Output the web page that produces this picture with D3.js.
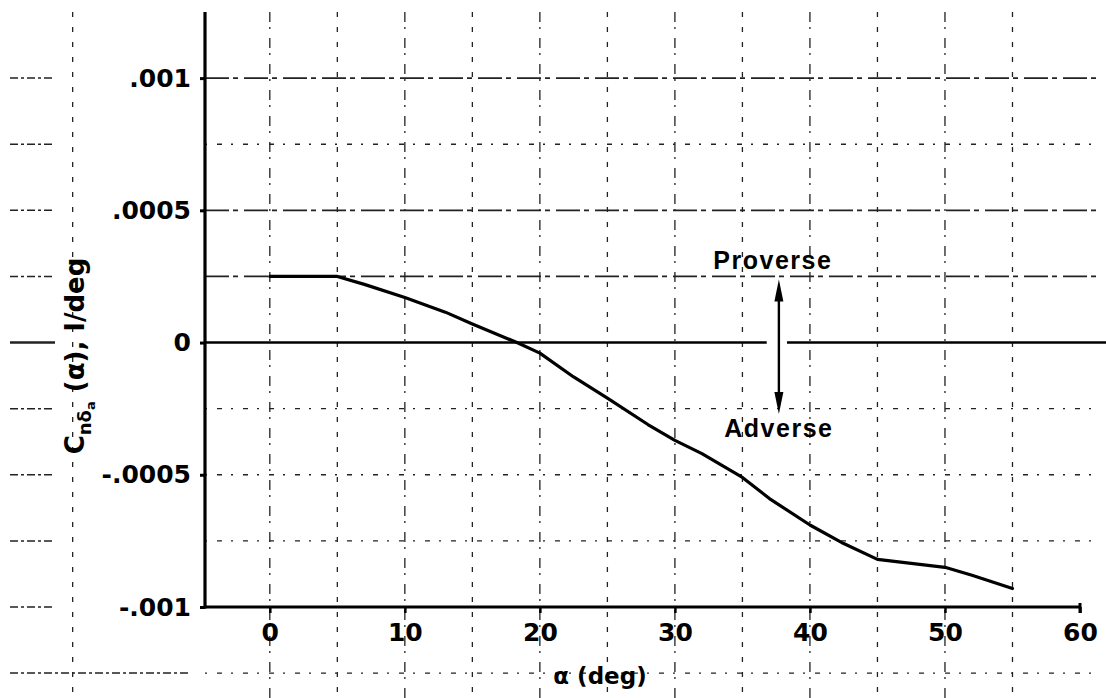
<!DOCTYPE html>
<html>
<head>
<meta charset="utf-8">
<script src="https://cdn.jsdelivr.net/npm/d3@7"></script>
<style>
  html, body { margin: 0; padding: 0; background: #fff; }
  svg { display: block; }
  text { font-family: "DejaVu Sans", "Liberation Sans", sans-serif; font-weight: bold; fill: #000; }
  text.lib { font-family: "Liberation Sans", Arial, sans-serif; }
</style>
</head>
<body>
<svg id="chart" width="1106" height="698"></svg>
<script>
// ---- data ----
const alphaDeg = [0, 5, 7, 10, 13, 15, 18.3, 20, 22.5, 25, 28, 30, 32, 35, 37, 40, 42.5, 45, 50, 52, 55];
const cnDa     = [0.00025, 0.00025, 0.00022, 0.00017, 0.000115, 0.00007, 0, -0.00004, -0.00013, -0.00021,
                  -0.00031, -0.00037, -0.00042, -0.00051, -0.00059, -0.00069, -0.00076, -0.00082, -0.00085, -0.00088, -0.00093];
const xTickValues = [0, 10, 20, 30, 40, 50, 60];
const xTickLabels = ["0", "10", "20", "30", "40", "50", "60"];
const yTickValues = [0.001, 0.0005, 0, -0.0005, -0.001];
const yTickLabels = [".001", ".0005", "0", "-.0005", "-.001"];
const xGridValues = [-14.6, 0, 5, 10, 15, 20, 25, 30, 35, 40, 45, 50, 55];
const yGridStrong = [0.001, 0.0005, 0.00025];
const yGridLight  = [0.00075, -0.00025, -0.0005, -0.00075, -0.00125];
const annotAlpha = 37.7;          // position of the Proverse/Adverse arrow (deg)
const annotTop = 0.00025, annotBottom = -0.00027;

// ---- scales ----
const svg = d3.select("#chart");
const x = d3.scaleLinear().domain([-4.8, 60]).range([205, 1080]);
const y = d3.scaleLinear().domain([-0.001, 0.00125]).range([607, 12]);

// ---- grid ----
const grid = svg.append("g").attr("stroke", "#222").attr("fill", "none");
grid.selectAll("line.v").data(xGridValues).join("line")
  .attr("class", "v")
  .attr("x1", d => x(d)).attr("x2", d => x(d))
  .attr("y1", 12).attr("y2", 698)
  .attr("stroke-width", 1.3)
  .attr("stroke-dasharray", (d, i) => i % 2 ? "10,5,2,9" : "5,10");
grid.selectAll("line.hs").data(yGridStrong).join("line")
  .attr("class", "hs")
  .attr("x1", x(-4.8)).attr("x2", 1100)
  .attr("y1", d => y(d)).attr("y2", d => y(d))
  .attr("stroke-width", 1.8)
  .attr("stroke-dasharray", "24,4,5,6");
grid.selectAll("line.hl").data(yGridLight).join("line")
  .attr("class", "hl")
  .attr("x1", x(-4.8)).attr("x2", 1100)
  .attr("y1", d => y(d)).attr("y2", d => y(d))
  .attr("stroke-width", 1.4)
  .attr("stroke-dasharray", "2,10,5,9");
// short pieces of the grid left of the frame
grid.selectAll("line.hleft").data(yGridStrong.concat(yGridLight, [0, -0.001])).join("line")
  .attr("class", "hleft")
  .attr("x1", 10).attr("x2", d => d === -0.00125 ? 190 : 55)
  .attr("y1", d => y(d)).attr("y2", d => y(d))
  .attr("stroke-width", d => d === 0 ? 2.5 : 1.5)
  .attr("stroke-dasharray", d => d === 0 ? null : "8,3,3,3");

// zero line (with gap for the arrow)
const zeroGap = [36.8, 38.3];
svg.append("line").attr("x1", x(-4.8)).attr("x2", x(zeroGap[0]))
  .attr("y1", y(0)).attr("y2", y(0)).attr("stroke", "#000").attr("stroke-width", 2.6);
svg.append("line").attr("x1", x(zeroGap[1])).attr("x2", 1106)
  .attr("y1", y(0)).attr("y2", y(0)).attr("stroke", "#000").attr("stroke-width", 2.6);

// ---- axes ----
const xAxis = d3.axisBottom(x).tickValues(xTickValues)
  .tickFormat((d, i) => xTickLabels[i]).tickSize(6).tickPadding(10);
const gx = svg.append("g").attr("transform", `translate(0,${y(-0.001)})`).call(xAxis);
gx.select(".domain").remove();
gx.selectAll(".tick line").attr("stroke", "#000").attr("stroke-width", 2.5);
gx.selectAll(".tick text").style("font-size", "25px").style("font-family", "'DejaVu Sans', sans-serif");
svg.append("line").attr("x1", x(-4.8)).attr("x2", x(60))
  .attr("y1", y(-0.001)).attr("y2", y(-0.001)).attr("stroke", "#000").attr("stroke-width", 3.2);
svg.append("line").attr("x1", x(60)).attr("x2", x(60))
  .attr("y1", y(-0.001) - 4).attr("y2", y(-0.001) + 6).attr("stroke", "#000").attr("stroke-width", 3);

const yAxis = d3.axisLeft(y).tickValues(yTickValues)
  .tickFormat((d, i) => yTickLabels[i]).tickSize(5).tickPadding(9);
const gy = svg.append("g").attr("transform", `translate(${x(-4.8)},0)`).call(yAxis);
gy.select(".domain").remove();
gy.selectAll(".tick line").attr("stroke", "#000").attr("stroke-width", 3);
gy.selectAll(".tick text").style("font-size", "25px").style("font-family", "'DejaVu Sans', sans-serif");
svg.append("line").attr("x1", x(-4.8)).attr("x2", x(-4.8))
  .attr("y1", 12).attr("y2", y(-0.001) + 1.5).attr("stroke", "#000").attr("stroke-width", 3.2);

// ---- data curve ----
const line = d3.line().x(d => x(d[0])).y(d => y(d[1]));
svg.append("path").datum(alphaDeg.map((a, i) => [a, cnDa[i]]))
  .attr("d", line).attr("fill", "none").attr("stroke", "#000")
  .attr("stroke-width", 3.2).attr("stroke-linejoin", "round").attr("stroke-linecap", "round");

// ---- Proverse / Adverse annotation ----
const ax = x(annotAlpha);
const yTop = y(annotTop) + 3, yBot = y(annotBottom);
svg.append("line").attr("x1", ax).attr("x2", ax).attr("y1", yTop + 10).attr("y2", yBot - 10)
  .attr("stroke", "#000").attr("stroke-width", 2.4);
svg.append("path").attr("d", `M${ax},${yTop} L${ax - 4.5},${yTop + 22} L${ax + 4.5},${yTop + 22} Z`).attr("fill", "#000");
svg.append("path").attr("d", `M${ax},${yBot} L${ax - 4.5},${yBot - 22} L${ax + 4.5},${yBot - 22} Z`).attr("fill", "#000");
svg.append("text").attr("class", "lib").attr("x", ax - 6).attr("y", yTop - 10).attr("text-anchor", "middle")
  .style("font-size", "25px").style("letter-spacing", "1.5px").text("Proverse");
svg.append("text").attr("class", "lib").attr("x", ax).attr("y", yBot + 23).attr("text-anchor", "middle")
  .style("font-size", "25px").style("letter-spacing", "1.5px").text("Adverse");

// ---- axis titles ----
svg.append("text").attr("x", 600).attr("y", 684).attr("text-anchor", "middle")
  .style("font-size", "23px").text("α (deg)");

const yt = svg.append("text").attr("transform", "translate(84,356) rotate(-90)")
  .attr("text-anchor", "middle").style("font-size", "26px");
yt.append("tspan").text("C");
yt.append("tspan").attr("dy", 7).style("font-size", "18px").text("nδ");
yt.append("tspan").attr("dy", 4).style("font-size", "13px").text("a");
yt.append("tspan").attr("dy", -11).text(" (α), I/deg");
</script>
</body>
</html>
